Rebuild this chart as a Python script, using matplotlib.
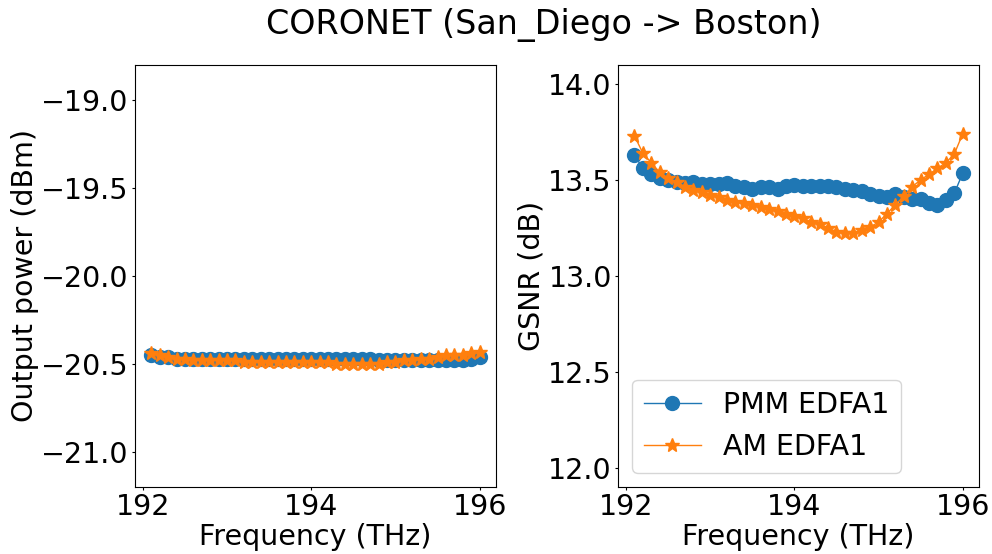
import numpy as np
import matplotlib
matplotlib.use("Agg")
from matplotlib import pyplot as plt

# channel frequencies (THz), 40 channels
freq = np.round(np.arange(192.1, 196.05, 0.1), 1)

# output power (dBm)
pmm_power = [-20.45, -20.46, -20.46, -20.47, -20.47, -20.47, -20.47, -20.47, -20.47, -20.47,
             -20.47, -20.47, -20.47, -20.47, -20.47, -20.47, -20.47, -20.47, -20.47, -20.47,
             -20.47, -20.47, -20.47, -20.47, -20.47, -20.47, -20.47, -20.48, -20.48, -20.48,
             -20.48, -20.48, -20.48, -20.48, -20.48, -20.48, -20.48, -20.48, -20.47, -20.46]
am_power = [-20.44, -20.45, -20.46, -20.47, -20.47, -20.48, -20.48, -20.48, -20.48, -20.48,
            -20.48, -20.49, -20.49, -20.49, -20.49, -20.49, -20.49, -20.49, -20.49, -20.49,
            -20.49, -20.49, -20.50, -20.50, -20.50, -20.50, -20.50, -20.50, -20.49, -20.49,
            -20.48, -20.48, -20.47, -20.47, -20.46, -20.45, -20.45, -20.45, -20.44, -20.43]

# GSNR (dB)
pmm_gsnr = [13.63, 13.56, 13.53, 13.51, 13.50, 13.49, 13.485, 13.49, 13.48, 13.478,
            13.477, 13.485, 13.47, 13.465, 13.455, 13.465, 13.465, 13.455, 13.468, 13.473,
            13.468, 13.47, 13.47, 13.47, 13.465, 13.455, 13.45, 13.44, 13.425, 13.415,
            13.41, 13.425, 13.41, 13.40, 13.40, 13.38, 13.37, 13.395, 13.43, 13.535]
am_gsnr = [13.73, 13.64, 13.59, 13.54, 13.51, 13.49, 13.465, 13.45, 13.435, 13.42,
           13.41, 13.395, 13.386, 13.378, 13.369, 13.357, 13.346, 13.34, 13.32, 13.31,
           13.30, 13.28, 13.27, 13.25, 13.23, 13.225, 13.225, 13.24, 13.255, 13.28,
           13.325, 13.37, 13.415, 13.465, 13.50, 13.53, 13.56, 13.59, 13.635, 13.74]

plt.rcParams["font.size"] = 20.5
plt.rcParams["xtick.major.size"] = 2.5
plt.rcParams["ytick.major.size"] = 2.5
plt.rcParams["xtick.major.pad"] = 2
plt.rcParams["ytick.major.pad"] = 2
plt.rcParams["axes.labelpad"] = 1.5

fig = plt.figure(figsize=(9.92, 5.54), dpi=100)
ax1 = fig.add_axes([0.136, 0.121, 0.364, 0.762])
ax2 = fig.add_axes([0.623, 0.121, 0.364, 0.762])

# left: output power
ax1.plot(freq, pmm_power, "o-", color="C0", markersize=10, linewidth=1, label="PMM EDFA1")
ax1.plot(freq, am_power, "*-", color="C1", markersize=10, linewidth=1, label="AM EDFA1")
ax1.set_ylim(-21.2, -18.8)
ax1.set_xticks([192, 194, 196])
ax1.set_xlabel("Frequency (THz)")
ax1.set_ylabel("Output power (dBm)")

# right: GSNR
ax2.plot(freq, pmm_gsnr, "o-", color="C0", markersize=10, linewidth=1, label="PMM EDFA1")
ax2.plot(freq, am_gsnr, "*-", color="C1", markersize=10, linewidth=1, label="AM EDFA1")
ax2.set_ylim(11.9, 14.1)
ax2.set_xticks([192, 194, 196])
ax2.set_xlabel("Frequency (THz)")
ax2.set_ylabel("GSNR (dB)")
ax2.legend(loc="lower left")

fig.suptitle("CORONET (San_Diego -> Boston)", fontsize=24, x=0.548, y=0.985)

fig.savefig("out.png", dpi=100)
